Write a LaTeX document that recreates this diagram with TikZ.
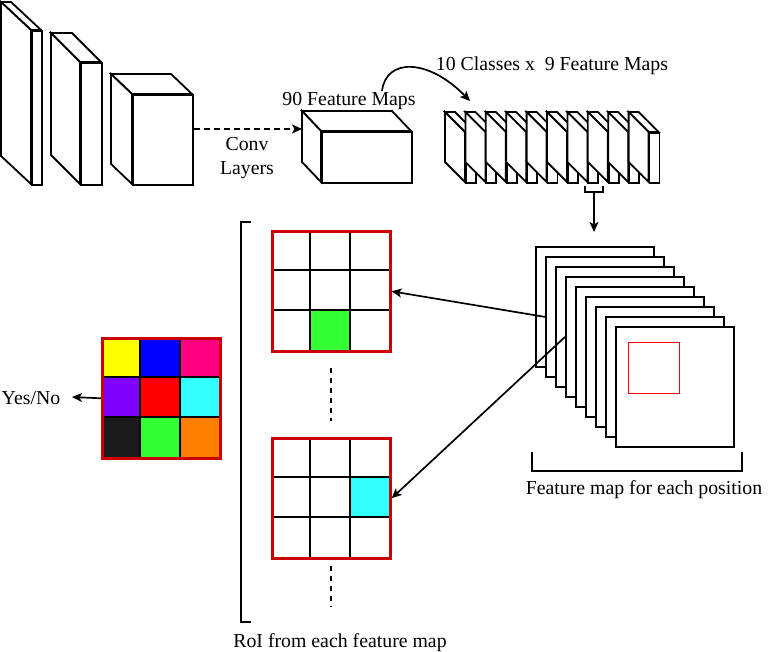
\documentclass[tikz,border=0pt]{standalone}
\usepackage{fontspec}
\setmainfont{Liberation Serif}
\usetikzlibrary{arrows.meta}
\definecolor{roired}{HTML}{CC0000}
\definecolor{cyel}{HTML}{FFFF00}
\definecolor{cblu}{HTML}{0000FF}
\definecolor{cpnk}{HTML}{FF0080}
\definecolor{cpur}{HTML}{8000FF}
\definecolor{cred}{HTML}{FF0000}
\definecolor{ccya}{HTML}{33FFFF}
\definecolor{cblk}{HTML}{1A1A1A}
\definecolor{cgrn}{HTML}{33FF33}
\definecolor{cora}{HTML}{FF8000}
% cuboid: name, x1, y1, width, height, dx, dy (front face top-left, size, depth offset)
\newcommand\mycuboid[7]{%
  \draw[box] (#2,#3) -- ({#2+#6},{#3+#7}) -- ({#2+#4+#6},{#3+#7}) -- ({#2+#4},#3) -- cycle;
  \draw[box] (#2,#3) -- ({#2+#6},{#3+#7}) -- ({#2+#6},{#3+#5+#7}) -- (#2,{#3+#5}) -- cycle;
  \node[box, inner sep=0pt, minimum width=#4pt, minimum height=#5pt, anchor=north west] (#1) at (#2,#3) {};
}
% grid lines and red frame: name, x, y
\newcommand\mygrid[3]{%
  \draw[gline] ({#2+118/3},#3) -- ({#2+118/3},{#3+120});
  \draw[gline] ({#2+236/3},#3) -- ({#2+236/3},{#3+120});
  \draw[gline] (#2,{#3+40}) -- ({#2+118},{#3+40});
  \draw[gline] (#2,{#3+80}) -- ({#2+118},{#3+80});
  \node[gframe, anchor=north west] (#1) at (#2,#3) {};
}
\begin{document}
\begin{tikzpicture}[x=1pt,y=-1pt,
  box/.style={draw=black, fill=white, line width=1.8pt},
  gline/.style={draw=black, line width=1.8pt},
  gframe/.style={draw=roired, line width=2.6pt, minimum width=118pt, minimum height=120pt, inner sep=0pt},
  lbl/.style={font=\fontsize{19.8}{23.8}\selectfont, inner sep=0pt},
  arr/.style={-{Stealth[length=10pt,width=9pt,inset=2.5pt]}, line width=1.7pt},
  brk/.style={draw=black, line width=1.8pt},
  vdash/.style={draw=black, line width=1.8pt, dash pattern=on 5pt off 5pt}]
\useasboundingbox (0,0) rectangle (776,652);

% input cuboids
\mycuboid{b1}{31}{30}{10}{154}{-30}{-28}
\mycuboid{b2}{80}{62}{21}{122}{-29}{-29}
\mycuboid{b3}{132}{94}{60}{90}{-21}{-20}
\mycuboid{b4}{321}{131}{90}{51}{-19}{-20}

% slabs
\foreach \i in {0,...,9}{
  \pgfmathsetmacro\sx{465+20.4*\i}
  \mycuboid{sl\i}{\sx}{132}{10}{50}{-20}{-20}
}

% texts
\node[lbl] (t90) at (349,101) {90 Feature Maps};
\node[lbl, align=center] (tconv) at (247,158) {Conv\\Layers};
\node[lbl] (t10) at (552,66) {10 Classes x\ \ 9 Feature Maps};
\node[lbl] (tfm) at (644,490) {Feature map for each position};
\node[lbl] (troi) at (340,643) {RoI from each feature map};
\node[lbl] (tyn) at (31,398) {Yes/No};

% dashed conv arrow
\coordinate (b4in) at (302,129);
\draw[arr, dash pattern=on 6pt off 4pt] (b3.east |- b4in) -- (b4in);

% curved arrow
\coordinate (ca) at (382,91);
\coordinate (cb) at (470,101);
\draw[arr] (ca) .. controls (386,58) and (428,58) .. (cb);

% bracket under slabs and arrow down
\draw[brk] (585,186) -- (585,192) -- (603,192) -- (603,186);
\coordinate (brc) at (594,192);
\coordinate (shtop) at (594,232);
\draw[arr] (brc) -- (shtop);

% stacked sheets
\foreach \k in {0,...,8}{
  \node[box, inner sep=0pt, minimum width=118pt, minimum height=120pt, anchor=north west] (s\k) at ({535+10*\k},{246+10*\k}) {};
}
\node[draw=red, line width=1.4pt, inner sep=0pt, minimum size=51pt, anchor=north west] (roi) at (628,342) {};
\draw[brk] (532,452) -- (532,471) -- (742,471) -- (742,452);

% RoI grids
\fill[cgrn] ({271+118/3},310) rectangle +(118/3,40);
\mygrid{g1}{271}{230}
\fill[ccya] ({271+236/3},477) rectangle +(118/3,40);
\mygrid{g2}{271}{437}
\draw[vdash] (331,368) -- (331,421);
\draw[vdash] (331,566) -- (331,607);
\draw[brk] (251,222) -- (241,222) -- (241,622) -- (251,622);

% colour grid
\foreach \c/\r/\col in {0/0/cyel,1/0/cblu,2/0/cpnk,0/1/cpur,1/1/cred,2/1/ccya,0/2/cblk,1/2/cgrn,2/2/cora}{
  \fill[\col] ({101+\c*118/3},{337+\r*40}) rectangle +(118/3,40);
}
\mygrid{cg}{101}{337}

% connectors
\draw[arr] (s1.west) -- (g1.east);
\draw[arr] (s3.west) -- (g2.east);
\coordinate (ynp) at (72,397);
\draw[arr] (cg.west) -- (ynp);
\end{tikzpicture}
\end{document}
